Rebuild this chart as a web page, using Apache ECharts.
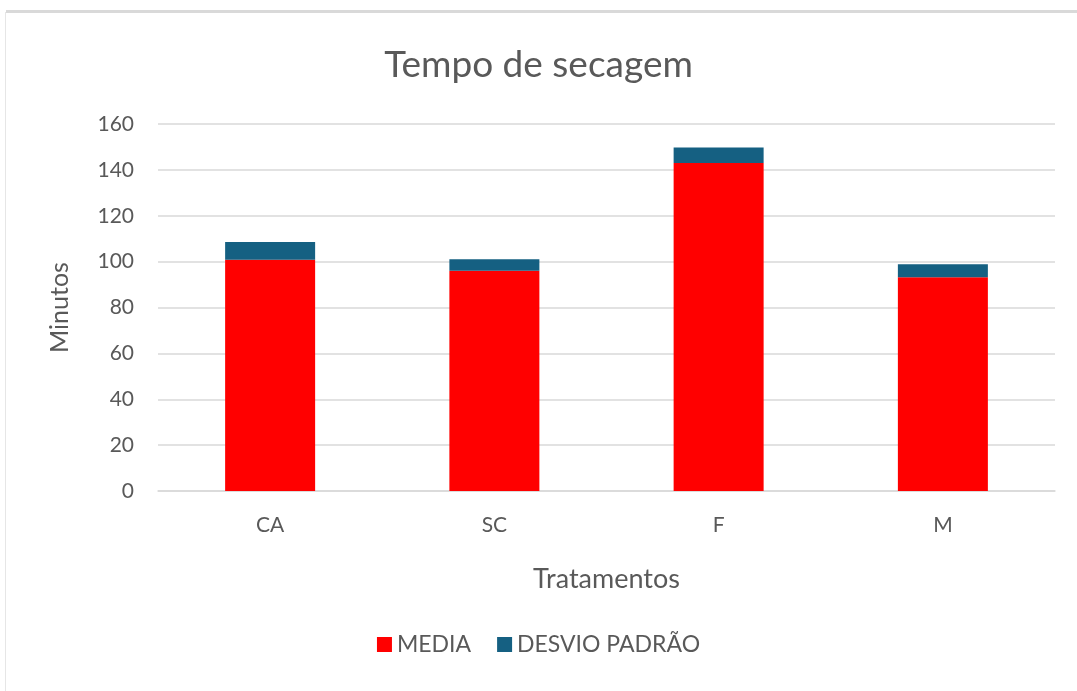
<!DOCTYPE html>
<html>
<head>
<meta charset="utf-8">
<script src="https://cdn.jsdelivr.net/npm/echarts@6/dist/echarts.min.js"></script>
<style>
  html, body { margin: 0; padding: 0; background: #fff; }
  #chart { width: 1077px; height: 691px; }
</style>
</head>
<body>
<div id="chart"></div>
<script>
const tratamentos = ['CA', 'SC', 'F', 'M'];
const media = [100.8, 96, 143, 93.2];
const desvio = [7.8, 5, 6.8, 5.7];
const yTicks = [0, 160, 20];

const chart = echarts.init(document.getElementById('chart'));
const gray = '#595959';
const font = 'Lato, "Open Sans", sans-serif';

chart.setOption({
  animation: false,
  backgroundColor: '#fff',
  title: {
    text: 'Tempo de secagem',
    left: 'center',
    top: 42,
    textStyle: { color: gray, fontSize: 37, fontWeight: 'normal', fontFamily: font }
  },
  grid: { left: 158, right: 22, top: 124, bottom: 200 },
  legend: {
    bottom: 30,
    left: 'center',
    itemWidth: 15,
    itemHeight: 15,
    itemGap: 26,
    icon: 'rect',
    textStyle: { color: gray, fontSize: 23, fontFamily: font }
  },
  xAxis: {
    type: 'category',
    data: tratamentos,
    name: 'Tratamentos',
    nameLocation: 'middle',
    nameGap: 75,
    nameTextStyle: { color: gray, fontSize: 27, fontFamily: font },
    axisLine: { lineStyle: { color: '#d9d9d9', width: 1.5 } },
    axisTick: { show: false },
    axisLabel: { color: gray, fontSize: 21, margin: 24, fontFamily: font }
  },
  yAxis: {
    type: 'value',
    min: yTicks[0],
    max: yTicks[1],
    interval: yTicks[2],
    name: 'Minutos',
    nameLocation: 'middle',
    nameGap: 86,
    nameTextStyle: { color: gray, fontSize: 25, fontFamily: font },
    axisLine: { show: false },
    axisTick: { show: false },
    axisLabel: { color: gray, fontSize: 21, margin: 24, fontFamily: font },
    splitLine: { lineStyle: { color: '#d9d9d9', width: 1.5 } }
  },
  graphic: [
    { type: 'rect', shape: { x: 6, y: 10, width: 1071, height: 3 }, style: { fill: '#d9d9d9' } },
    { type: 'rect', shape: { x: 5, y: 12, width: 1, height: 679 }, style: { fill: '#e6e6e6' } }
  ],
  series: [
    {
      name: 'MEDIA',
      type: 'bar',
      stack: 'total',
      barWidth: 90,
      data: media,
      itemStyle: { color: '#ff0000' }
    },
    {
      name: 'DESVIO PADRÃO',
      type: 'bar',
      stack: 'total',
      barWidth: 90,
      data: desvio,
      itemStyle: { color: '#156082' }
    }
  ]
});
</script>
</body>
</html>
